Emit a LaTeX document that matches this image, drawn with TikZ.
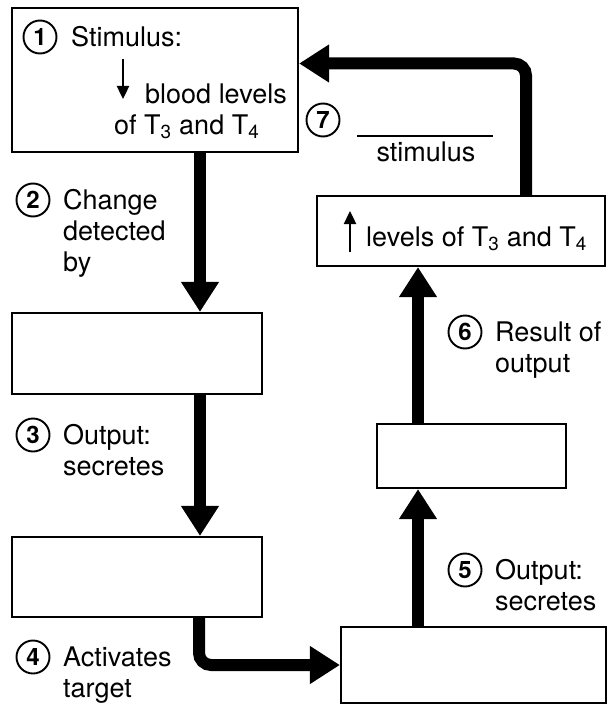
\documentclass[tikz,border=0pt]{standalone}
\usepackage{fontspec}
\setmainfont{TeX Gyre Heros}
\usetikzlibrary{arrows.meta}
\begin{document}
\begin{tikzpicture}[x=1pt,y=-1pt,
  box/.style={draw, line width=2.2pt, inner sep=0pt},
  bigarr/.style={line width=12pt, -{Triangle[length=30pt,width=36pt]}},
  smallarr/.style={line width=2.4pt, -{Triangle[length=13pt,width=12pt]}},
  num/.style={draw, circle, line width=1.9pt, minimum size=33pt, inner sep=0pt, font=\fontsize{24}{24}\selectfont\bfseries},
  lbl/.style={anchor=base west, inner sep=0pt, font=\fontsize{27}{29}\selectfont}]
\useasboundingbox (0,0) rectangle (612,706);
% boxes
\node[box, minimum width=286pt, minimum height=144pt] (b1) at (155,80) {};
\node[box, minimum width=250pt, minimum height=81pt] (b2) at (137,353.5) {};
\node[box, minimum width=250pt, minimum height=80pt] (b3) at (137,577) {};
\node[box, minimum width=265pt, minimum height=76pt] (b4) at (473.5,665) {};
\node[box, minimum width=189pt, minimum height=64pt] (b5) at (471.5,456) {};
\node[box, minimum width=288pt, minimum height=70pt] (b6) at (461,231) {};
% arrows
\coordinate (x1) at (200,0);
\coordinate (x3) at (199,0);
\coordinate (x5) at (418,0);
\coordinate (x6) at (526,63.5);
\draw[bigarr] (b1.south -| x1) -- (b2.north -| x1);
\draw[bigarr] (b2.south -| x1) -- (b3.north -| x1);
\draw[bigarr, rounded corners=12pt] (b3.south -| x3) |- (b4.west);
\draw[bigarr] (b4.north -| x5) -- (b5.south -| x5);
\draw[bigarr] (b5.north -| x5) -- (b6.south -| x5);
\draw[bigarr, rounded corners=12pt] (b6.north -| x6) |- (b1.east |- x6);
% box 1 text
\node[num] (n1) at (40,37) {1};
\node[lbl] (t1a) at (71,47) {Stimulus:};
\coordinate (d1a) at (123,59);
\coordinate (d1b) at (123,99);
\draw[smallarr] (d1a) -- (d1b);
\node[lbl] (t1b) at (145,103) {blood levels};
\node[lbl] (t1c) at (114,134) {of T\textsubscript{3} and T\textsubscript{4}};
% label 2
\node[num] (n2) at (33,200) {2};
\node[lbl] (t2a) at (63,209) {Change};
\node[lbl] (t2b) at (63,240) {detected};
\node[lbl] (t2c) at (63,271) {by};
% label 3
\node[num] (n3) at (33,435) {3};
\node[lbl] (t3a) at (63,444) {Output:};
\node[lbl] (t3b) at (63,475) {secretes};
% label 4
\node[num] (n4) at (33,657) {4};
\node[lbl] (t4a) at (63,666) {Activates};
\node[lbl] (t4b) at (63,697) {target};
% label 5
\node[num] (n5) at (465,570) {5};
\node[lbl] (t5a) at (495,579) {Output:};
\node[lbl] (t5b) at (495,610) {secretes};
% label 6
\node[num] (n6) at (465,332) {6};
\node[lbl] (t6a) at (495,341) {Result of};
\node[lbl] (t6b) at (495,372) {output};
% label 7
\node[num] (n7) at (323,120) {7};
\coordinate (l7a) at (357,136);
\coordinate (l7b) at (493,136);
\draw[line width=1.3pt] (l7a) -- (l7b);
\node[lbl, anchor=base] (t7) at (426,161) {stimulus};
% box 6 text
\coordinate (u6a) at (350,252);
\coordinate (u6b) at (350,211);
\draw[smallarr] (u6a) -- (u6b);
\node[lbl] (t6) at (366,246) {levels of T\textsubscript{3} and T\textsubscript{4}};
\end{tikzpicture}
\end{document}
